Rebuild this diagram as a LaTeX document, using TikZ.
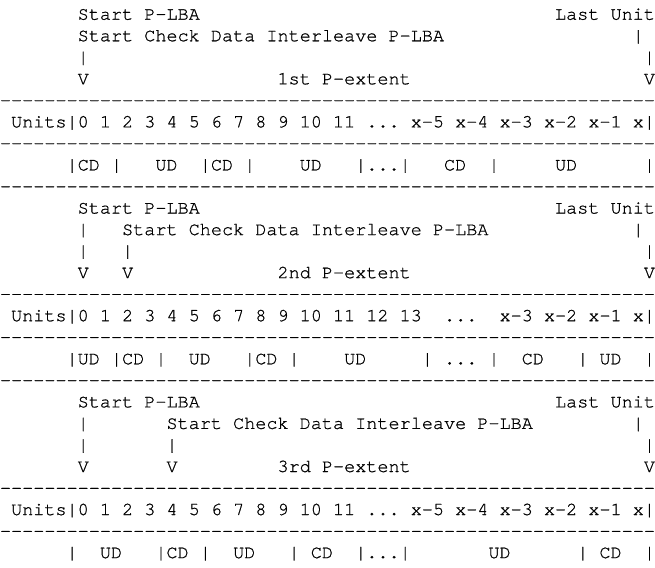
\documentclass[tikz,border=0pt]{standalone}
\usepackage{fontspec}
\usepackage{tikz}

\newfontfamily\crfamily[FakeBold=0.8]{TeX Gyre Cursor}
\newcommand\crfont{\crfamily\fontsize{10pt}{11.64pt}\selectfont\frenchspacing}
\newcommand\dts{.{}.{}.}

\begin{document}
\begin{tikzpicture}[x=6pt, y=-11.64pt, txt/.style = {anchor=base west, inner sep=0pt, outer sep=0pt, font=\crfont}]
\useasboundingbox (0,0) rectangle (59,26.33);
% rulers of dashes
\foreach \k in {5,7,9,14,16,18,23,25}
  \foreach \c in {0,...,58}
    \node[txt] (d\k-\c) at (\c,\k-0.085) {-};
% text, row/column/text
\foreach \k/\c/\t in {
  1/7/Start P-LBA, 1/50/Last Unit,
  2/7/Start Check Data Interleave P-LBA, 2/57/|,
  3/7/|, 3/58/|,
  4/7/V, 4/25/1st P-extent, 4/58/V,
  6/1/Units|0 1 2 3 4 5 6 7 8 9 10 11 \dts\ x-5 x-4 x-3 x-2 x-1 x|,
  8/6/|CD |, 8/14/UD, 8/18/|CD |, 8/27/UD, 8/32/|\dts|, 8/40/CD, 8/44/|, 8/50/UD, 8/58/|,
  10/7/Start P-LBA, 10/50/Last Unit,
  11/7/|, 11/11/Start Check Data Interleave P-LBA, 11/57/|,
  12/7/|, 12/11/|, 12/58/|,
  13/7/V, 13/11/V, 13/25/2nd P-extent, 13/58/V,
  15/1/Units|0 1 2 3 4 5 6 7 8 9 10 11 12 13, 15/40/\dts, 15/45/x-3 x-2 x-1 x|,
  17/6/|UD |CD |, 17/17/UD, 17/22/|CD |, 17/31/UD, 17/38/| \dts\ |, 17/47/CD, 17/52/| UD, 17/58/|,
  19/7/Start P-LBA, 19/50/Last Unit,
  20/7/|, 20/15/Start Check Data Interleave P-LBA, 20/57/|,
  21/7/|, 21/15/|, 21/58/|,
  22/7/V, 22/15/V, 22/25/3rd P-extent, 22/58/V,
  24/1/Units|0 1 2 3 4 5 6 7 8 9 10 11 \dts\ x-5 x-4 x-3 x-2 x-1 x|,
  26/6/|, 26/9/UD, 26/14/|CD |, 26/21/UD, 26/26/| CD, 26/32/|\dts|, 26/44/UD, 26/52/| CD, 26/58/|}
  \node[txt] (t\k-\c) at (\c,\k-0.085) {\t};
\end{tikzpicture}
\end{document}
